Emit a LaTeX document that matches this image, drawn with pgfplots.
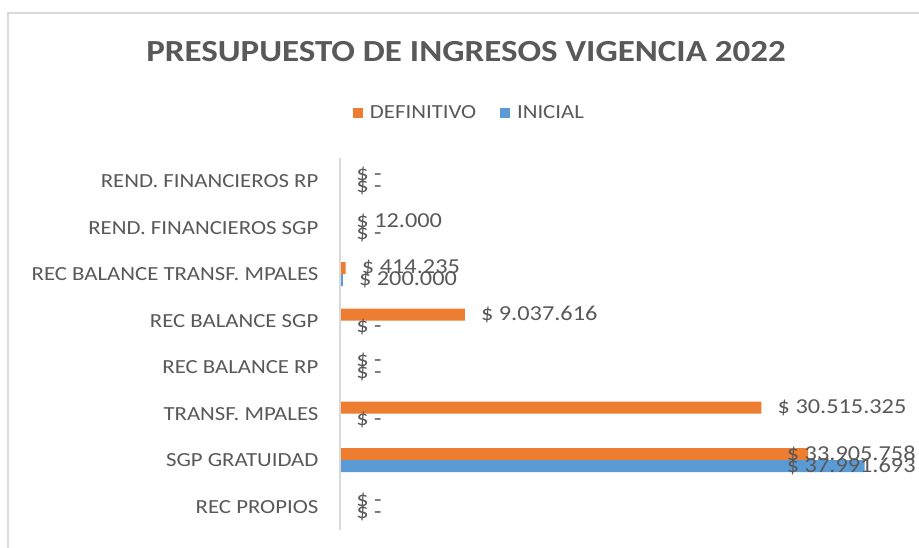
\documentclass[border=0pt]{standalone}
\usepackage{pgfplots}
\pgfplotsset{compat=1.18}
\usepackage{fontspec}
\setmainfont{Carlito}[FakeStretch=1.14]
\definecolor{orng}{HTML}{ED7D31}
\definecolor{blu}{HTML}{5B9BD5}
\definecolor{txt}{HTML}{595959}
\definecolor{lgrey}{HTML}{D9D9D9}
\begin{document}
\begin{tikzpicture}
\useasboundingbox (0,0) rectangle (689.25pt,411pt);
\fill[white] (0,0) rectangle (689.25pt,411pt);
\draw[lgrey, line width=0.8pt] (6pt,-10pt) -- (6pt,401.25pt) -- (700pt,401.25pt);
\node[font=\fontsize{23}{27}\selectfont\bfseries, text=txt] at (349.5pt,372.5pt) {PRESUPUESTO DE INGRESOS VIGENCIA 2022};
\begin{axis}[
  at={(255pt,13.5pt)}, anchor=south west, scale only axis,
  width=435pt, height=279pt,
  xmin=0, xmax=42e6, ymin=-0.5, ymax=7.5,
  xbar, bar width=9pt,
  axis line style={draw=none},
  xtick=\empty,
  ytick={0,1,2,3,4,5,6,7},
  yticklabels={REC PROPIOS, SGP GRATUIDAD, TRANSF. MPALES, REC BALANCE RP, REC BALANCE SGP, REC BALANCE TRANSF. MPALES, REND. FINANCIEROS SGP, REND. FINANCIEROS RP},
  major tick length=0pt,
  yticklabel style={font=\fontsize{15}{18}\selectfont, text=txt, inner sep=0pt, anchor=east, xshift=-16pt},
  clip=false,
  point meta=explicit symbolic,
  nodes near coords,
  every node near coord/.append style={font=\fontsize{16}{19}\selectfont, text=txt, inner sep=0pt, anchor=west, xshift=12pt},
  legend style={at={(0.224,1.121)}, anchor=center, draw=none, fill=none, legend columns=2, font=\fontsize{15}{18}\selectfont, text=txt,
    /tikz/every odd column/.append style={column sep=3pt},
    /tikz/every even column/.append style={column sep=16pt}},
  legend image code/.code={\fill (0pt,-3.75pt) rectangle (7.5pt,3.75pt);},
]
\addplot[fill=orng, draw=none, bar shift=4.5pt] coordinates {
 (0,0) [\$ -]
 (33905758,1) []
 (30515325,2) [\$ 30.515.325]
 (0,3) [\$ -]
 (9037616,4) [\$ 9.037.616]
 (414235,5) [\$ 414.235]
 (12000,6) [\$ 12.000]
 (0,7) [\$ -]
};
\addlegendentry{DEFINITIVO}
\addplot[fill=blu, draw=none, bar shift=-4.5pt] coordinates {
 (0,0) [\$ -]
 (37991693,1) []
 (0,2) [\$ -]
 (0,3) [\$ -]
 (0,4) [\$ -]
 (200000,5) [\$ 200.000]
 (0,6) [\$ -]
 (0,7) [\$ -]
};
\addlegendentry{INICIAL}
\draw[lgrey, line width=0.8pt] (rel axis cs:0,0) -- (rel axis cs:0,1);
\node[anchor=east, inner sep=0pt, font=\fontsize{16}{19}\selectfont, text=txt, yshift=4.5pt] at (axis cs:41.7e6,1) {\$ 33.905.758};
\node[anchor=east, inner sep=0pt, font=\fontsize{16}{19}\selectfont, text=txt, yshift=-4.5pt] at (axis cs:41.7e6,1) {\$ 37.991.693};
\end{axis}
\end{tikzpicture}
\end{document}
